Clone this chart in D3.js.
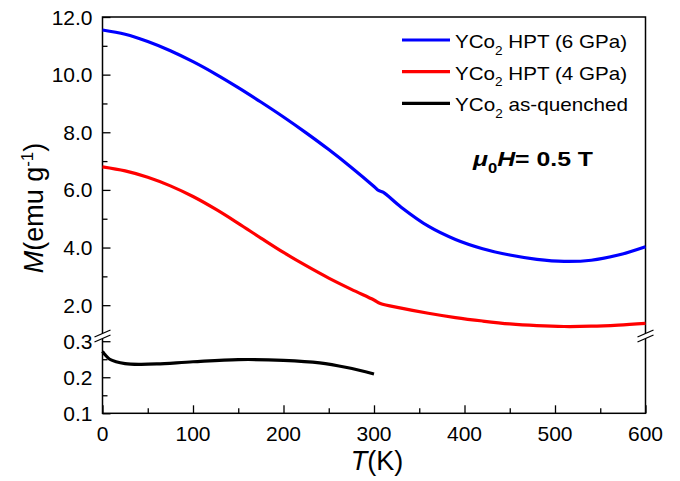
<!DOCTYPE html>
<html>
<head>
<meta charset="utf-8">
<script src="https://cdn.jsdelivr.net/npm/d3@7"></script>
<style>
  body { margin: 0; background: #fff; }
  text { font-family: Arial, "Liberation Sans", sans-serif; fill: #000; }
</style>
</head>
<body>
<svg></svg>
<script>
const w = 680;
const h = 481;
const padLeft = 102.5, padRight = 645.5, padTop = 17, padBottom = 413.3;
const breakY = 334;

// data
const tBlue = [0, 25, 50, 75, 100, 125, 150, 175, 200, 225, 250, 275, 300, 305, 310, 330, 360, 390, 420, 450, 480, 510, 540, 570, 600];
const mBlue = [11.55, 11.40, 11.15, 10.83, 10.45, 10.02, 9.55, 9.05, 8.53, 7.98, 7.40, 6.78, 6.12, 5.98, 5.92, 5.40, 4.74, 4.28, 3.96, 3.74, 3.59, 3.52, 3.56, 3.74, 4.03];
const tRed = [0, 25, 50, 75, 100, 125, 150, 175, 200, 225, 250, 275, 300, 307, 330, 360, 390, 420, 450, 480, 510, 540, 570, 600];
const mRed = [6.80, 6.66, 6.44, 6.14, 5.77, 5.33, 4.84, 4.33, 3.83, 3.37, 2.94, 2.55, 2.18, 2.06, 1.90, 1.72, 1.57, 1.45, 1.35, 1.29, 1.26, 1.27, 1.31, 1.37];
const tBlack = [0, 3, 8, 15, 25, 40, 60, 100, 150, 200, 240, 270, 300];
const mBlack = [0.272, 0.262, 0.250, 0.243, 0.238, 0.236, 0.237, 0.243, 0.249, 0.247, 0.240, 0.227, 0.209];

const xTicks = [0, 100, 200, 300, 400, 500, 600];
const yUpTicks = [2, 4, 6, 8, 10, 12];
const yLoTicks = [0.1, 0.2, 0.3];
const seriesNames = ['HPT (6 GPa)', 'HPT (4 GPa)', 'as-quenched'];
const seriesColors = ['#0000ff', '#ff0000', '#000000'];

const svg = d3.select('svg').attr('width', w).attr('height', h);

const xScale = d3.scaleLinear().domain([0, 600]).range([padLeft, padRight]);
const yUp = d3.scaleLinear().domain([1, 12]).range([breakY, padTop]);
const yLo = d3.scaleLinear().domain([0.1, 0.32]).range([padBottom, breakY]);

// axes (ticks inward)
const xAxis = d3.axisTop(xScale).tickValues(d3.range(0, 601, 50)).tickSize(0).tickFormat('');
svg.append('g').attr('transform', 'translate(0,' + padBottom + ')')
    .call(xAxis)
    .call(g => g.select('.domain').remove())
    .selectAll('.tick line')
    .attr('y2', (d) => (d % 100 === 0 ? -8 : -5))
    .attr('stroke-width', 1.3);

svg.append('g').selectAll('text')
    .data(xTicks)
    .enter()
    .append('text')
    .attr('x', (d) => xScale(d))
    .attr('y', 441)
    .attr('text-anchor', 'middle')
    .attr('font-size', 21)
    .text((d) => d);

const yAxisUp = d3.axisRight(yUp).tickValues(d3.range(2, 12.1, 1)).tickSize(0).tickFormat('');
svg.append('g').attr('transform', 'translate(' + padLeft + ',0)')
    .call(yAxisUp)
    .call(g => g.select('.domain').remove())
    .selectAll('.tick line')
    .attr('x2', (d) => (d % 2 === 0 ? 8 : 5))
    .attr('stroke-width', 1.3);

const yAxisLo = d3.axisRight(yLo).tickValues([0.1, 0.15, 0.2, 0.25, 0.3]).tickSize(0).tickFormat('');
svg.append('g').attr('transform', 'translate(' + padLeft + ',0)')
    .call(yAxisLo)
    .call(g => g.select('.domain').remove())
    .selectAll('.tick line')
    .attr('x2', (d) => (Math.round(d * 100) % 10 === 0 ? 8 : 5))
    .attr('stroke-width', 1.3);

svg.append('g').selectAll('text')
    .data(yUpTicks)
    .enter()
    .append('text')
    .attr('x', padLeft - 10)
    .attr('y', (d) => yUp(d))
    .attr('dy', '0.36em')
    .attr('text-anchor', 'end')
    .attr('font-size', 21)
    .text((d) => d.toFixed(1));

svg.append('g').selectAll('text')
    .data(yLoTicks)
    .enter()
    .append('text')
    .attr('x', padLeft - 10)
    .attr('y', (d) => yLo(d))
    .attr('dy', '0.36em')
    .attr('text-anchor', 'end')
    .attr('font-size', 21)
    .text((d) => d.toFixed(1));

// frame
svg.append('rect')
    .attr('x', padLeft).attr('y', padTop)
    .attr('width', padRight - padLeft).attr('height', padBottom - padTop)
    .attr('fill', 'none').attr('stroke', '#000').attr('stroke-width', 1.5);

// curves
const line = d3.line()
    .x((d) => xScale(d[0]))
    .curve(d3.curveCatmullRom.alpha(0.5));

const curves = [
    { t: tBlue, m: mBlue, y: yUp, color: seriesColors[0] },
    { t: tRed, m: mRed, y: yUp, color: seriesColors[1] },
    { t: tBlack, m: mBlack, y: yLo, color: seriesColors[2] }
];
curves.forEach((c) => {
    svg.append('path')
        .datum(c.t.map((t, i) => [t, c.m[i]]))
        .attr('fill', 'none')
        .attr('stroke', c.color)
        .attr('stroke-width', 3.2)
        .attr('d', line.y((d) => c.y(d[1])));
});

// axis break marks
[padLeft, padRight].forEach((x) => {
    svg.append('polygon')
        .attr('points', [[x - 8, breakY + 3], [x + 8, breakY - 4], [x + 8, breakY + 1], [x - 8, breakY + 8]].join(' '))
        .attr('fill', '#fff');
    [0, 5].forEach((o) => {
        svg.append('line')
            .attr('x1', x - 8).attr('y1', breakY + 3 + o)
            .attr('x2', x + 8).attr('y2', breakY - 4 + o)
            .attr('stroke', '#000').attr('stroke-width', 1.3);
    });
});

// legend
const legendWidths = [172, 172, 173];
const legend = svg.append('g');
seriesNames.forEach((name, i) => {
    const ly = 40 + i * 31.7;
    legend.append('line')
        .attr('x1', 402).attr('x2', 450)
        .attr('y1', ly).attr('y2', ly)
        .attr('stroke', seriesColors[i]).attr('stroke-width', 3.2);
    const t = legend.append('text').attr('x', 455).attr('y', ly + 8).attr('font-size', 19)
        .attr('textLength', legendWidths[i]).attr('lengthAdjust', 'spacingAndGlyphs');
    t.append('tspan').text('YCo');
    t.append('tspan').attr('dy', 6.5).attr('font-size', 12.5).text('2');
    t.append('tspan').attr('dy', -6.5).text(' ' + name);
});

// field annotation
const ann = svg.append('text').attr('x', 473).attr('y', 166).attr('font-size', 21).attr('font-weight', 'bold')
    .attr('textLength', 120).attr('lengthAdjust', 'spacingAndGlyphs');
ann.append('tspan').attr('font-style', 'italic').text('μ');
ann.append('tspan').attr('dy', 7).attr('font-size', 14).text('0');
ann.append('tspan').attr('dy', -7).attr('font-style', 'italic').text('H');
ann.append('tspan').text('= 0.5 T');

// axis titles
const xt = svg.append('text').attr('x', 377).attr('y', 470).attr('text-anchor', 'middle').attr('font-size', 27);
xt.append('tspan').attr('font-style', 'italic').text('T');
xt.append('tspan').text('(K)');

const yt = svg.append('text')
    .attr('transform', 'translate(43,208) rotate(-90)')
    .attr('text-anchor', 'middle')
    .attr('font-size', 27);
yt.append('tspan').attr('font-style', 'italic').text('M');
yt.append('tspan').text('(emu g');
yt.append('tspan').attr('dy', -10).attr('font-size', 17).text('-1');
yt.append('tspan').attr('dy', 10).text(')');
</script>
</body>
</html>
